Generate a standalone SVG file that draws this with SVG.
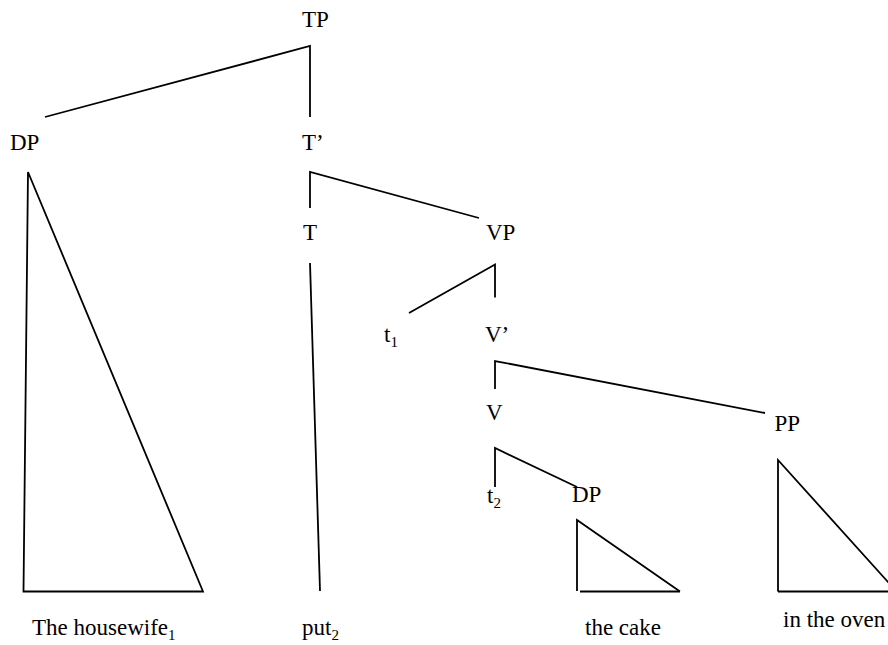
<svg xmlns="http://www.w3.org/2000/svg" width="888" height="645" viewBox="0 0 888 645">
<style>
.t{font-family:'Liberation Serif','Times New Roman',Times,'DejaVu Serif',serif;font-size:23px;fill:#000}
.sub{font-size:15px}
.e{stroke:#000;stroke-width:1.8;fill:none;stroke-linejoin:miter;stroke-linecap:butt}
</style>
<rect width="888" height="645" fill="#fff"/>
<g id="connectors">
<polyline class="e" points="45,117 310,46 310,117"/>
<polyline class="e" points="310,208 310,172 479,218"/>
<polyline class="e" points="409,313 495,264.5 495,297.5"/>
<polyline class="e" points="495,389 495,361 765,413"/>
<polyline class="e" points="495,487 495,448 577,487"/>
<line class="e" x1="310" y1="263" x2="320" y2="591"/>
</g>
<g class="t" font-family="Liberation Serif, serif">
<g id="n-TP"><text x="302" y="27">TP</text></g>
<g id="n-DP1"><text x="10" y="150">DP</text>
<polygon class="e" points="28,172 23.5,591.5 203,591.5"/></g>
<g id="n-Tbar"><text x="302" y="150">T’</text></g>
<g id="n-T"><text x="303" y="240">T</text></g>
<g id="n-VP"><text x="486" y="240">VP</text></g>
<g id="n-t1"><text x="384" y="342">t<tspan class="sub" dy="5">1</tspan></text></g>
<g id="n-Vbar"><text x="485" y="342">V’</text></g>
<g id="n-V"><text x="486" y="420">V</text></g>
<g id="n-PP"><text x="774.5" y="431">PP</text>
<polyline class="e" points="778,591.5 778,460 897,592"/>
<line class="e" x1="778" y1="591.5" x2="888" y2="591.5"/></g>
<g id="n-t2"><text x="487" y="503">t<tspan class="sub" dy="5">2</tspan></text></g>
<g id="n-DP2"><text x="572" y="502">DP</text>
<polyline class="e" points="577,591 577,520 680,591.5"/>
<line class="e" x1="580" y1="591.5" x2="680" y2="591.5"/></g>
<g id="leaf-housewife"><text x="32" y="635">The housewife<tspan class="sub" dy="5">1</tspan></text></g>
<g id="leaf-put"><text x="302" y="635">put<tspan class="sub" dy="5">2</tspan></text></g>
<g id="leaf-cake"><text x="585" y="635">the cake</text></g>
<g id="leaf-oven"><text x="783" y="627">in the oven</text></g>
</g>
</svg>
